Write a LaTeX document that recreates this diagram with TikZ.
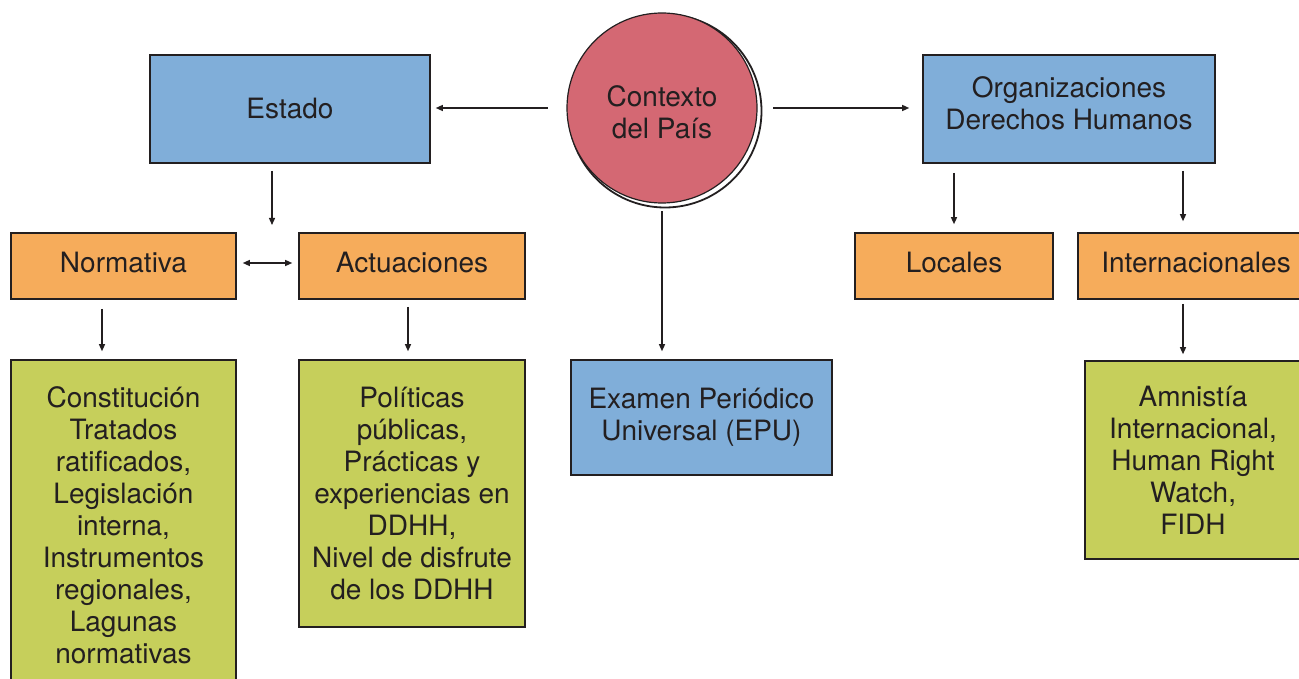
\documentclass[tikz,border=0pt]{standalone}
\usepackage{fontspec}
\setmainfont{TeX Gyre Heros}
\usetikzlibrary{arrows.meta,calc}
\definecolor{bxblue}{HTML}{80AED9}
\definecolor{bxorange}{HTML}{F6AC5B}
\definecolor{bxgreen}{HTML}{C6CF5B}
\definecolor{bxred}{HTML}{D46873}
\definecolor{edge}{HTML}{231F20}
\definecolor{txt}{HTML}{231F20}
\begin{document}
\begin{tikzpicture}[x=1pt,y=-1pt,
  box/.style={draw=edge, line width=1.6pt, inner sep=0pt, align=center,
    font=\fontsize{28}{32}\selectfont, text=txt},
  lbl/.style={align=center, inner sep=0pt, font=\fontsize{28}{32}\selectfont, text=txt},
  arr/.style={draw=edge, line width=1.3pt, -{Triangle[length=7pt,width=6pt]}},
  arrboth/.style={draw=edge, line width=1.3pt, {Triangle[length=7pt,width=6pt]}-{Triangle[length=7pt,width=6pt]}}]
\useasboundingbox (0,0) rectangle (1299,679);
\fill[white] (0,0) rectangle (1299,679);

% top row
\node[box, fill=bxblue, minimum width=280pt, minimum height=108pt] (estado) at (290,109) {Estado};
\draw[edge, line width=1.8pt] (665,111) circle (96.5);
\node[circle, fill=bxred, inner sep=0pt, minimum size=190pt,
  label={[lbl, yshift=-4pt]center:Contexto\\del País}] (ctx) at (662,108) {};
\draw[edge, line width=1.2pt] (ctx.center) circle (95);
\node[box, fill=bxblue, minimum width=292pt, minimum height=108pt,
  label={[lbl, yshift=6pt]center:Organizaciones\\Derechos Humanos}] (org) at (1069,109) {};

% second row
\node[box, fill=bxorange, minimum width=225pt, minimum height=66pt,
  label={[lbl, yshift=3pt]center:Normativa}] (norm) at (123.5,266) {};
\node[box, fill=bxorange, minimum width=226pt, minimum height=66pt,
  label={[lbl, yshift=3pt]center:Actuaciones}] (act) at (412,266) {};
\node[box, fill=bxorange, minimum width=198pt, minimum height=66pt,
  label={[lbl, yshift=3pt]center:Locales}] (loc) at (954,266) {};
\node[box, fill=bxorange, minimum width=236pt, minimum height=66pt,
  label={[lbl, yshift=3pt]center:Internacionales}] (intl) at (1196,266) {};

% third row
\node[box, fill=bxgreen, minimum width=225pt, minimum height=330pt] (const) at (123.5,525)
  {Constitución\\Tratados\\ratificados,\\Legislación\\interna,\\Instrumentos\\regionales,\\Lagunas\\normativas};
\node[box, fill=bxgreen, minimum width=226pt, minimum height=267pt] (pol) at (412,493.5)
  {Políticas\\públicas,\\Prácticas y\\experiencias en\\DDHH,\\Nivel de disfrute\\de los DDHH};
\node[box, fill=bxblue, minimum width=261pt, minimum height=115pt] (epu) at (701.5,417.5)
  {Examen Periódico\\Universal (EPU)};
\node[box, fill=bxgreen, minimum width=216pt, minimum height=198pt] (amn) at (1193,460)
  {Amnistía\\Internacional,\\Human Right\\Watch,\\FIDH};

% connectors
\draw[arr, shorten <=19pt, shorten >=5pt] (ctx.west) -- (ctx.west -| estado.east);
\draw[arr, shorten <=16pt, shorten >=13pt] (ctx.east) -- (ctx.east -| org.west);
\coordinate (nexus) at (272,225);
\draw[arr, shorten <=7pt] (estado.south -| nexus) -- (nexus);
\draw[arrboth, shorten <=6pt, shorten >=6pt] ([yshift=3pt]norm.east) -- ([yshift=3pt]act.west);
\draw[arr, shorten <=9pt, shorten >=8pt] ([xshift=-21.5pt]norm.south) -- ([xshift=-21.5pt]const.north);
\draw[arr, shorten <=7pt, shorten >=8pt] ([xshift=-4pt]act.south) -- ([xshift=-4pt]pol.north);
\draw[arr, shorten <=8pt, shorten >=8pt] (ctx.south) -- (ctx.south |- epu.north);
\draw[arr, shorten <=9pt, shorten >=8pt] (loc.north |- org.south) -- (loc.north);
\draw[arr, shorten <=7pt, shorten >=11pt] ([xshift=-13pt]intl.north |- org.south) -- ([xshift=-13pt]intl.north);
\draw[arr, shorten <=4pt, shorten >=6pt] ([xshift=-13pt]intl.south) -- ([xshift=-13pt]intl.south |- amn.north);
\end{tikzpicture}
\end{document}
